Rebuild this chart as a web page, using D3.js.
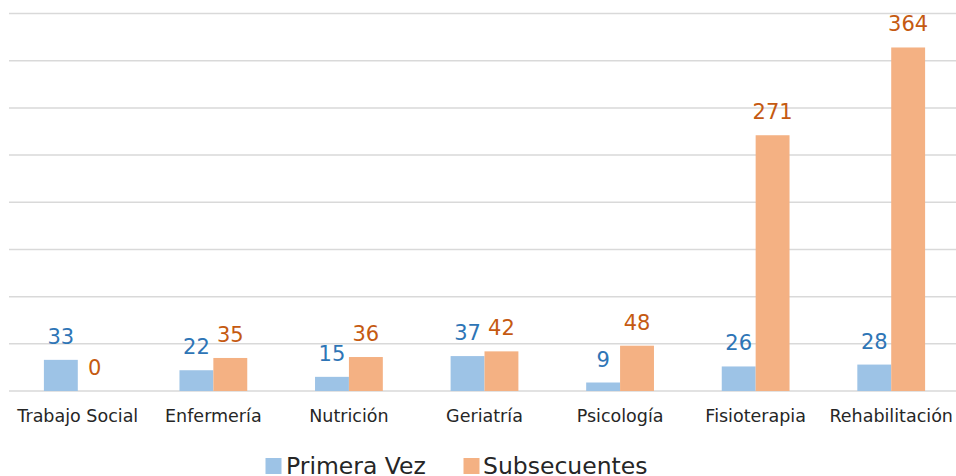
<!DOCTYPE html>
<html>
<head>
<meta charset="utf-8">
<script src="https://cdn.jsdelivr.net/npm/d3@7"></script>
<style>
  body { margin: 0; background: #fff; }
  svg { display: block; font-family: "DejaVu Sans", sans-serif; }
</style>
</head>
<body>
<svg id="chart" width="956" height="476"></svg>
<script>
// chart data
const categories = ['Trabajo Social', 'Enfermería', 'Nutrición', 'Geriatría', 'Psicología', 'Fisioterapia', 'Rehabilitación'];
const seriesNames = ['Primera Vez', 'Subsecuentes'];
const primeraVez = [33, 22, 15, 37, 9, 26, 28];
const subsecuentes = [0, 35, 36, 42, 48, 271, 364];
const yTicks = [0, 50, 100, 150, 200, 250, 300, 350, 400];

const barColors = ['#9DC3E6', '#F4B183'];
const labelColors = ['#2E75B6', '#C55A11'];

const svg = d3.select('#chart');
const width = 956, height = 476;
const plot = { left: 10, right: 959, top: 13.5, bottom: 391 };

const x0 = d3.scaleBand().domain(categories).range([plot.left, plot.right])
  .paddingInner(0.5).paddingOuter(0.25);
const x1 = d3.scaleBand().domain(seriesNames).range([0, x0.bandwidth()]);
const y = d3.scaleLinear().domain([0, 400]).range([plot.bottom, plot.top]);

// gridlines
svg.append('g').selectAll('line').data(yTicks).join('line')
  .attr('x1', 9).attr('x2', width)
  .attr('y1', d => y(d)).attr('y2', d => y(d))
  .attr('stroke', '#d9d9d9').attr('stroke-width', 1.5);

const rows = categories.map((c, i) => ({ cat: c, vals: [primeraVez[i], subsecuentes[i]] }));

const groups = svg.append('g').selectAll('g').data(rows).join('g')
  .attr('transform', d => `translate(${x0(d.cat)},0)`);

groups.selectAll('rect').data(d => d.vals.map((v, k) => ({ v, k }))).join('rect')
  .attr('x', d => x1(seriesNames[d.k]))
  .attr('width', x1.bandwidth())
  .attr('y', d => y(d.v))
  .attr('height', d => y(0) - y(d.v))
  .attr('fill', d => barColors[d.k]);

groups.selectAll('text').data(d => d.vals.map((v, k) => ({ v, k }))).join('text')
  .attr('x', d => x1(seriesNames[d.k]) + x1.bandwidth() / 2)
  .attr('y', d => y(d.v) - 16)
  .attr('text-anchor', 'middle')
  .attr('font-size', 21)
  .attr('fill', d => labelColors[d.k])
  .text(d => d.v);

// category axis labels
svg.append('g').selectAll('text').data(categories).join('text')
  .attr('x', d => x0(d) + x0.bandwidth() / 2)
  .attr('y', 422)
  .attr('text-anchor', 'middle')
  .attr('font-size', 17.5)
  .attr('fill', '#262626')
  .text(d => d);

// legend
const legendItems = [
  { name: seriesNames[0], color: barColors[0], sx: 265.5, tx: 286 },
  { name: seriesNames[1], color: barColors[1], sx: 463.5, tx: 483 }
];
const lg = svg.append('g');
lg.selectAll('rect').data(legendItems).join('rect')
  .attr('x', d => d.sx).attr('y', 458).attr('width', 16).attr('height', 16)
  .attr('fill', d => d.color);
lg.selectAll('text').data(legendItems).join('text')
  .attr('x', d => d.tx).attr('y', 474)
  .attr('font-size', 23.5).attr('fill', '#262626')
  .text(d => d.name);
</script>
</body>
</html>
